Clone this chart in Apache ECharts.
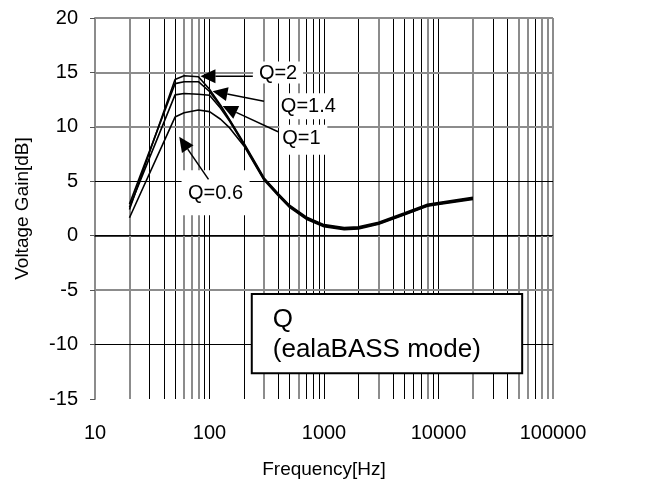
<!DOCTYPE html>
<html>
<head>
<meta charset="utf-8">
<script src="https://cdn.jsdelivr.net/npm/echarts@6/dist/echarts.min.js"></script>
<style>
html,body{margin:0;padding:0;background:#fff;}
#c{width:647px;height:484px;}
</style>
</head>
<body>
<div id="c"></div>
<script>
// ---- data ----
const freqs = [20, 50, 60, 80, 100, 125, 150, 200, 300, 400, 500, 700, 1000, 1500, 2000, 3000, 5000, 8000, 10000, 20000];
const q2  = [2.4, 14.36, 14.7, 14.6, 13.45, 12.0, 10.65, 8.5, 5.3, 3.85, 2.8, 1.72, 1.02, 0.74, 0.81, 1.23, 2.08, 2.88, 3.04, 3.52];
const q14 = [2.9, 13.97, 14.15, 14.15, 13.25, 11.9, 10.6, 8.42, 5.23, 3.79, 2.74, 1.66, 0.96, 0.68, 0.75, 1.17, 2.02, 2.82, 2.98, 3.46];
const q1  = [2.6, 12.94, 13.06, 13.0, 12.9, 11.7, 10.5, 8.35, 5.16, 3.72, 2.67, 1.59, 0.89, 0.62, 0.69, 1.11, 1.96, 2.76, 2.92, 3.4];
const q06 = [1.65, 10.9, 11.3, 11.55, 11.4, 10.7, 9.9, 8.25, 5.09, 3.65, 2.6, 1.52, 0.82, 0.56, 0.63, 1.05, 1.9, 2.7, 2.86, 3.34];
const xTicks = [10, 100, 1000, 10000, 100000];
const yTicks = [-15, -10, -5, 0, 5, 10, 15, 20];
const vGridGrey = [20, 60, 70, 80, 300, 600, 3000, 8000, 20000, 50000, 60000, 80000, 90000, 100000];
const vGridBlack = [30, 40, 50, 90, 100, 200, 400, 500, 700, 800, 900, 1000, 2000, 4000, 5000, 6000, 7000, 9000, 10000, 30000, 40000, 70000];
const hGridGrey = [-5, 10, 15, 20];
const hGridBlack = [-10, 0, 5];
const qLabels = ['Q=2', 'Q=1.4', 'Q=1', 'Q=0.6'];
// annotation anchors in data units [freq, dB]
const labelPos = [[397, 14.9], [730, 11.9], [634, 8.9], [113, 3.9]];
const arrowTail = [[239, 14.65], [299, 12.36], [397, 9.55], [98, 5.18]];
const arrowTip = [[83.3, 14.65], [106.3, 13.27], [130.2, 11.91], [54.4, 9.09]];
const boxCorners = [[234, -5.36], [53800, -12.64]];
const boxText = ['Q', '(ealaBASS mode)'];

const FONT = 'Liberation Sans, Arial, sans-serif';
const pair = arr => freqs.map((f, i) => [f, arr[i]]);

const gridMarks = [];
vGridGrey.forEach(v => gridMarks.push({xAxis: v, lineStyle: {color: '#8c8c8c', width: 2, type: 'solid'}}));
vGridBlack.forEach(v => gridMarks.push({xAxis: v, lineStyle: {color: '#000', width: 1, type: 'solid'}}));
hGridGrey.forEach(v => gridMarks.push({yAxis: v, lineStyle: {color: '#8c8c8c', width: 2, type: 'solid'}}));
hGridBlack.forEach(v => gridMarks.push({yAxis: v, lineStyle: {color: '#000', width: 1, type: 'solid'}}));

const curve = (name, arr) => ({
  name, type: 'line', data: pair(arr), symbol: 'none', smooth: false,
  lineStyle: {color: '#000', width: 1.6}, z: 5, animation: false
});

const chart = echarts.init(document.getElementById('c'), null, {renderer: 'canvas'});
chart.setOption({
  animation: false,
  backgroundColor: '#fff',
  grid: {left: 95, right: 94, top: 18, bottom: 81, containLabel: false},
  xAxis: {
    type: 'log', logBase: 10, min: 10, max: 100000,
    name: 'Frequency[Hz]', nameLocation: 'middle', nameGap: 61,
    nameTextStyle: {fontFamily: FONT, fontSize: 19, color: '#000'},
    axisLine: {show: true, lineStyle: {color: '#000', width: 1.5}},
    axisTick: {show: false},
    splitLine: {show: false},
    axisLabel: {fontFamily: FONT, fontSize: 20, color: '#000', margin: 24,
      showMinLabel: true, showMaxLabel: true,
      formatter: v => String(Math.round(v))}
  },
  yAxis: {
    type: 'value', min: -15, max: 20, interval: 5,
    name: 'Voltage Gain[dB]', nameLocation: 'middle', nameGap: 63,
    nameTextStyle: {fontFamily: FONT, fontSize: 19, color: '#000'},
    axisLine: {show: true, lineStyle: {color: '#8c8c8c', width: 2}},
    axisTick: {show: true, inside: false, length: 5, lineStyle: {color: '#555', width: 1}},
    splitLine: {show: false},
    axisLabel: {fontFamily: FONT, fontSize: 20, color: '#000', margin: 17,
      formatter: v => yTicks.includes(v) ? String(v) : ''}
  },
  series: [
    {
      type: 'line', data: [[10, -15]], symbol: 'none', lineStyle: {opacity: 0}, z: 1,
      markLine: {silent: true, symbol: ['none', 'none'], label: {show: false},
        animation: false, data: gridMarks}
    },
    curve(qLabels[0], q2), curve(qLabels[1], q14), curve(qLabels[2], q1), curve(qLabels[3], q06)
  ]
});

// annotations placed through the axes' scales
const px = p => chart.convertToPixel({gridIndex: 0}, p);
const elements = [];
const bgs = [[-25, -12, 50, 22], [-28, -13, 58, 26], [-22, -14, 48, 30], [-34, -23, 68, 45]];
qLabels.forEach((t, i) => {
  const c = px(labelPos[i]);
  const b = bgs[i];
  elements.push({type: 'rect', shape: {x: c[0] + b[0], y: c[1] + b[1], width: b[2], height: b[3]},
    style: {fill: '#fff'}, z: 10});
});
qLabels.forEach((t, i) => {
  const c = px(labelPos[i]);
  elements.push({type: 'text', x: c[0], y: c[1], style: {text: t, fontFamily: FONT, fontSize: 20,
    fill: '#000', align: 'center', verticalAlign: 'middle'}, z: 12});
  const a = px(arrowTail[i]), b = px(arrowTip[i]);
  const dx = b[0] - a[0], dy = b[1] - a[1];
  const L = Math.hypot(dx, dy), ux = dx / L, uy = dy / L;
  const hl = 15, hw = 7;
  const bx = b[0] - ux * hl, by = b[1] - uy * hl;
  elements.push({type: 'line', shape: {x1: a[0], y1: a[1], x2: bx, y2: by},
    style: {stroke: '#000', lineWidth: 1.5}, z: 12});
  elements.push({type: 'polygon', shape: {points: [[b[0], b[1]], [bx - uy * hw, by + ux * hw], [bx + uy * hw, by - ux * hw]]},
    style: {fill: '#000'}, z: 12});
});
const p1 = px(boxCorners[0]), p2 = px(boxCorners[1]);
elements.push({type: 'rect', shape: {x: p1[0], y: p1[1], width: p2[0] - p1[0], height: p2[1] - p1[1]},
  style: {fill: '#fff', stroke: '#000', lineWidth: 2}, z: 10});
elements.push({type: 'text', x: p1[0] + 21, y: p1[1] + 26, style: {text: boxText[0], fontFamily: FONT, fontSize: 26,
  fill: '#000', align: 'left', verticalAlign: 'middle'}, z: 12});
elements.push({type: 'text', x: p1[0] + 21, y: p1[1] + 56, style: {text: boxText[1], fontFamily: FONT, fontSize: 26,
  fill: '#000', align: 'left', verticalAlign: 'middle'}, z: 12});
chart.setOption({graphic: {elements}});
</script>
</body>
</html>
